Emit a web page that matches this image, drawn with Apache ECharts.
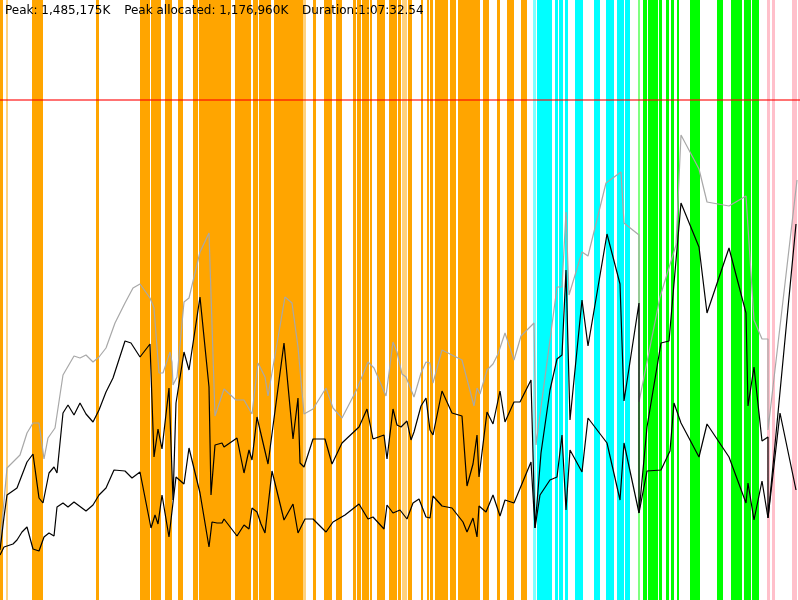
<!DOCTYPE html>
<html>
<head>
<meta charset="utf-8">
<script src="https://cdn.jsdelivr.net/npm/echarts@6/dist/echarts.min.js"></script>
<style>html,body{margin:0;padding:0;background:#fff}#c{width:800px;height:600px}</style>
</head>
<body>
<div id="c"></div>
<script>
// Title values
const titleText = 'Peak: 1,485,175K   \u2009Peak allocated: 1,176,960K   \u2009Duration:1:07:32.54';
// Peak level (in chart memory units, axis 0..600)
const peakLevel = 500;

// GC / phase spans along time axis (0..800), inclusive pixel columns
const orangeSpans = [[0,2],[32,36],[37,42],[96,98],[140,144],[145,149],[151,154],[155,160],[165,171],[178,182],[193,197],[199,214],[215,228],[229,230],[235,237],[238,242],[243,250],[253,257],[259,270],[274,293],[294,302],[313,315],[324,331],[336,341],[353,355],[357,360],[362,368],[370,371],[377,380],[381,384],[389,396],[398,400],[408,411],[421,422],[427,428],[430,432],[435,438],[439,447],[450,455],[458,479],[483,488],[497,499],[507,509],[510,513],[521,526]];
const orangeFaint = [[6,7],[303,305],[402,406]];
const cyanSpans = [[537,548],[549,551],[555,557],[559,562],[565,567],[575,582],[594,599],[606,613],[617,623],[625,629]];
const cyanFaint = [[533,535]];
const greenSpans = [[643,646],[648,653],[654,657],[659,661],[666,668],[671,673],[677,678],[690,699],[717,722],[731,738],[739,741],[744,750],[752,758]];
const greenFaint = [[638,639]];
const pinkSpans = [[767,769],[772,774],[792,796],[798,800]];

// Heap total (gray)
const heapTotal = [[0,55],[7,132],[20,145],[27,167],[33,177],[39,177],[44,141],[48,162],[55,172],[63,225],[74,244],[80,242],[86,245],[93,238],[99,243],[106,252],[115,277],[125,297],[133,312],[140,316],[150,302],[154,292],[159,227],[163,227],[170,248],[172,238],[173,215],[177,223],[184,298],[189,302],[200,348],[209,367],[215,184],[224,211],[236,200],[244,200],[252,186],[258,237],[265,223],[268,204],[285,303],[292,297],[298,253],[304,186],[313,191],[326,212],[333,192],[342,182],[357,211],[368,238],[374,232],[386,204],[393,258],[397,248],[402,226],[406,223],[414,203],[421,227],[426,238],[430,237],[433,217],[442,250],[462,240],[474,194],[477,212],[480,206],[487,230],[493,236],[498,246],[505,267],[514,240],[521,264],[534,277],[536,155],[557,313],[562,313],[566,388],[569,305],[582,348],[588,344],[606,417],[621,428],[624,377],[639,365],[639,198],[660,303],[676,355],[681,465],[699,431],[707,398],[729,394],[746,404],[754,280],[762,261],[768,261],[768,170],[797,420]];

// Black upper
const usedUpper = [[0,50],[4,83],[7,105],[17,112],[27,138],[33,146],[39,102],[43,97],[49,127],[54,133],[57,127],[63,187],[68,195],[74,185],[80,197],[86,186],[93,178],[99,190],[106,208],[113,222],[125,259],[131,257],[140,243],[150,256],[154,143],[158,171],[162,151],[169,212],[173,100],[176,197],[184,248],[189,230],[200,303],[209,213],[211,105],[215,155],[222,157],[224,153],[237,162],[244,127],[249,150],[252,140],[257,183],[268,136],[284,257],[293,161],[298,202],[300,137],[304,133],[313,161],[325,161],[332,136],[342,157],[359,173],[367,191],[373,161],[384,165],[387,141],[393,191],[397,175],[401,173],[407,179],[411,160],[414,168],[421,194],[426,202],[430,170],[433,165],[442,209],[452,187],[462,184],[467,114],[473,136],[477,165],[479,123],[487,188],[493,176],[500,209],[505,178],[514,198],[520,198],[531,220],[535,72],[541,147],[550,210],[557,241],[562,245],[566,330],[570,180],[582,300],[588,254],[607,366],[620,316],[624,199],[639,297],[639,87],[647,173],[661,257],[669,259],[681,397],[699,353],[707,287],[729,352],[746,287],[748,194],[754,233],[762,159],[768,163],[768,82],[796,376]];

// Black lower
const usedLower = [[0,45],[4,53],[13,56],[17,60],[22,68],[27,73],[33,51],[39,49],[44,63],[49,67],[54,64],[57,93],[63,97],[68,93],[74,98],[86,89],[93,95],[99,105],[106,112],[114,130],[125,129],[132,122],[140,128],[151,72],[155,85],[158,76],[162,105],[169,63],[176,123],[184,116],[189,152],[200,107],[209,53],[212,78],[217,77],[222,77],[224,81],[237,64],[244,75],[249,71],[252,92],[257,88],[261,76],[265,67],[272,129],[284,80],[293,96],[298,67],[300,67],[305,81],[313,81],[326,68],[333,78],[345,85],[359,96],[368,81],[373,83],[384,71],[387,95],[393,87],[400,90],[407,81],[413,97],[419,101],[426,83],[430,82],[433,104],[442,94],[452,92],[463,78],[467,68],[473,82],[477,63],[479,94],[486,88],[493,105],[500,84],[505,100],[514,97],[531,138],[535,72],[540,105],[550,120],[557,123],[562,165],[566,90],[570,150],[582,128],[588,182],[607,157],[620,100],[624,157],[639,87],[647,129],[661,130],[670,149],[674,197],[681,177],[699,143],[707,176],[729,143],[746,97],[748,117],[754,80],[762,119],[768,82],[780,187],[796,110]];

function spanSeries(name, spans, color, opacity) {
  return {
    name: name,
    type: 'custom',
    silent: true,
    z: 1,
    data: spans,
    renderItem: function (params, api) {
      const a = api.coord([api.value(0), 600]);
      const b = api.coord([api.value(1), 0]);
      const unit = api.size([1, 0])[0];
      return {
        type: 'rect',
        shape: { x: a[0], y: a[1], width: b[0] - a[0] + unit, height: b[1] - a[1] },
        style: { fill: color, opacity: opacity }
      };
    },
    encode: { x: [0, 1] }
  };
}

function lineSeries(name, data, color, width, z) {
  return {
    name: name,
    type: 'line',
    data: data,
    showSymbol: false,
    symbol: 'none',
    z: z,
    animation: false,
    lineStyle: { color: color, width: width }
  };
}

const chart = echarts.init(document.getElementById('c'));
chart.setOption({
  animation: false,
  backgroundColor: '#ffffff',
  title: {
    text: titleText,
    left: 5,
    top: 5,
    padding: 0,
    textStyle: { fontFamily: 'DejaVu Sans', fontSize: 12, fontWeight: 'normal', color: '#000' }
  },
  grid: { left: 0, right: 0, top: 0, bottom: 0 },
  xAxis: { type: 'value', min: 0, max: 800, show: false },
  yAxis: { type: 'value', min: 0, max: 600, show: false },
  series: [
    spanSeries('orange', orangeSpans, '#FFA500', 1),
    spanSeries('orangeFaint', orangeFaint, '#FFA500', 0.5),
    spanSeries('cyan', cyanSpans, '#00FFFF', 1),
    spanSeries('cyanFaint', cyanFaint, '#00FFFF', 0.5),
    spanSeries('green', greenSpans, '#00FF00', 1),
    spanSeries('greenFaint', greenFaint, '#00FF00', 0.5),
    spanSeries('pink', pinkSpans, '#FFC0CB', 1),
    lineSeries('heapTotal', heapTotal, '#a8a8a8', 1.2, 5),
    lineSeries('usedUpper', usedUpper, '#000000', 1.2, 6),
    lineSeries('usedLower', usedLower, '#000000', 1.2, 6),
    {
      name: 'peak',
      type: 'line',
      data: [],
      z: 7,
      markLine: {
        silent: true,
        symbol: 'none',
        label: { show: false },
        lineStyle: { color: 'rgba(255,0,0,0.55)', width: 2, type: 'solid' },
        data: [{ yAxis: peakLevel }]
      }
    }
  ]
});
</script>
</body>
</html>
